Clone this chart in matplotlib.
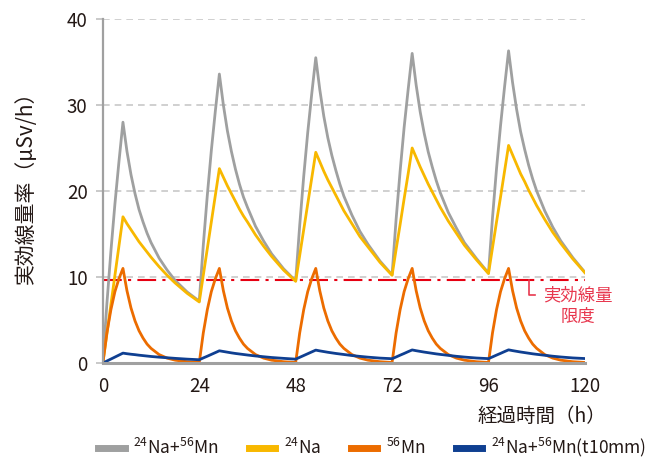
import matplotlib
matplotlib.use('Agg')
import matplotlib.pyplot as plt
from matplotlib.lines import Line2D

plt.rcParams['font.family'] = ['Noto Sans CJK JP', 'DejaVu Sans']
plt.rcParams['mathtext.fontset'] = 'custom'
plt.rcParams['mathtext.rm'] = 'Noto Sans CJK JP'

hours = [0, 1, 2, 3, 4, 5, 6, 7, 8, 9, 10, 11, 12, 14, 16, 18, 21,
         24, 25, 26, 27, 28, 29, 30, 31, 32, 33, 34, 35, 36, 38, 40, 42, 45,
         48, 49, 50, 51, 52, 53, 54, 55, 56, 57, 58, 59, 60, 62, 64, 66, 69,
         72, 73, 74, 75, 76, 77, 78, 79, 80, 81, 82, 83, 84, 86, 88, 90, 93,
         96, 97, 98, 99, 100, 101, 102, 103, 104, 105, 106, 107, 108, 110, 112, 114, 117,
         120]

total = [0, 6.9, 13.0, 18.5, 23.4, 28.0, 24.6, 21.9, 19.7, 17.85, 16.4, 15.1, 14.0, 12.2, 10.8, 9.6, 8.25,
         7.2, 13.7, 19.5, 24.7, 29.3, 33.6, 30.0, 27.0, 24.6, 22.55, 20.8, 19.3, 18.1, 15.9, 14.2, 12.7, 10.95,
         9.55, 16.0, 21.7, 26.8, 31.3, 35.5, 31.8, 28.7, 26.2, 24.15, 22.4, 20.8, 19.4, 17.2, 15.3, 13.8, 11.85,
         10.25, 16.7, 22.3, 27.4, 31.8, 36.0, 32.3, 29.2, 26.7, 24.55, 22.8, 21.2, 19.8, 17.5, 15.7, 14.0, 12.15,
         10.45, 16.9, 22.6, 27.6, 32.1, 36.3, 32.6, 29.5, 26.9, 24.85, 23.0, 21.4, 20.0, 17.7, 15.8, 14.2, 12.25,
         10.55]

na24 = [0, 3.4, 6.8, 10.2, 13.6, 17.0, 16.2, 15.5, 14.8, 14.1, 13.5, 12.9, 12.3, 11.2, 10.2, 9.3, 8.1,
        7.1, 10.2, 13.3, 16.4, 19.5, 22.6, 21.6, 20.6, 19.7, 18.8, 17.9, 17.1, 16.4, 14.9, 13.6, 12.4, 10.8,
        9.5, 12.5, 15.5, 18.5, 21.5, 24.5, 23.4, 22.3, 21.3, 20.4, 19.5, 18.6, 17.7, 16.2, 14.7, 13.5, 11.7,
        10.2, 13.2, 16.1, 19.1, 22.0, 25.0, 23.9, 22.8, 21.8, 20.8, 19.9, 19.0, 18.1, 16.5, 15.1, 13.7, 12.0,
        10.4, 13.4, 16.4, 19.3, 22.3, 25.3, 24.2, 23.1, 22.0, 21.1, 20.1, 19.2, 18.3, 16.7, 15.2, 13.9, 12.1,
        10.5]

mn56 = [0, 3.5, 6.2, 8.3, 9.8, 11.0, 8.4, 6.4, 4.9, 3.75, 2.9, 2.2, 1.7, 0.98, 0.57, 0.33, 0.15,
        0.06, 3.5, 6.2, 8.3, 9.8, 11.0, 8.4, 6.4, 4.9, 3.75, 2.9, 2.2, 1.7, 0.98, 0.57, 0.33, 0.15,
        0.06, 3.5, 6.2, 8.3, 9.8, 11.0, 8.4, 6.4, 4.9, 3.75, 2.9, 2.2, 1.7, 0.98, 0.57, 0.33, 0.15,
        0.06, 3.5, 6.2, 8.3, 9.8, 11.0, 8.4, 6.4, 4.9, 3.75, 2.9, 2.2, 1.7, 0.98, 0.57, 0.33, 0.15,
        0.06, 3.5, 6.2, 8.3, 9.8, 11.0, 8.4, 6.4, 4.9, 3.75, 2.9, 2.2, 1.7, 0.98, 0.57, 0.33, 0.15,
        0.06]

shielded = [0, 0.23, 0.46, 0.69, 0.92, 1.15, 1.08, 1.02, 0.97, 0.91, 0.86, 0.81, 0.76, 0.68, 0.61, 0.54, 0.45,
            0.38, 0.59, 0.79, 1.0, 1.21, 1.42, 1.34, 1.26, 1.18, 1.11, 1.05, 0.99, 0.93, 0.82, 0.73, 0.64, 0.54,
            0.45, 0.66, 0.87, 1.08, 1.29, 1.5, 1.41, 1.33, 1.25, 1.18, 1.11, 1.05, 0.99, 0.87, 0.77, 0.68, 0.57,
            0.50, 0.70, 0.91, 1.11, 1.32, 1.52, 1.43, 1.35, 1.27, 1.20, 1.13, 1.06, 1.0, 0.89, 0.78, 0.69, 0.58,
            0.51, 0.71, 0.92, 1.12, 1.33, 1.53, 1.44, 1.36, 1.28, 1.21, 1.14, 1.07, 1.01, 0.90, 0.79, 0.70, 0.59,
            0.52]

limit = 9.7
xticks = [0, 24, 48, 72, 96, 120]
yticks = [0, 10, 20, 30, 40]

labels = [r'$\mathregular{^{24}}$Na+$\mathregular{^{56}}$Mn',
          r'$\mathregular{^{24}}$Na',
          r'$\mathregular{^{56}}$Mn',
          r'$\mathregular{^{24}}$Na+$\mathregular{^{56}}$Mn(t10mm)']
colors = ['#9fa0a0', '#f8b800', '#ec6c00', '#0f3f91']
series = [total, na24, mn56, shielded]

fig = plt.figure(figsize=(6.47, 4.58), dpi=100)
ax = fig.add_axes([0.159, 0.2074, 0.745, 0.7511])

ax.set_xlim(0, 120)
ax.set_ylim(0, 40)
ax.set_yticks(yticks)
ax.set_xticks(xticks)
ax.grid(axis='y', color='#c8c8c8', linestyle=(0, (4, 3)), linewidth=1.2)
ax.set_axisbelow(True)

for s in ['top', 'right']:
    ax.spines[s].set_visible(False)
ax.spines['left'].set_color('#a0a0a0')
ax.spines['left'].set_linewidth(1.6)
ax.spines['bottom'].set_color('#a0a0a0')
ax.spines['bottom'].set_linewidth(2.2)
ax.tick_params(axis='y', length=5, width=1.2, color='#c0c0c0', labelsize=13.5,
               labelcolor='#231815', pad=6)
ax.tick_params(axis='x', length=0, labelsize=13.5, labelcolor='#231815', pad=9)

ax.axhline(limit, color='#e60012', linestyle=(0, (9, 3, 1.5, 3)), linewidth=1.5)

for vals, c in zip(series, colors):
    ax.plot(hours, vals, color=c, linewidth=2.0, solid_joinstyle='round')

ax.plot([106, 106, 107.6], [limit, 7.9, 7.9], color='#e8384f', linewidth=1.2, clip_on=False)
ax.text(118.3, 6.6, '実効線量\n限度', color='#e8384f', fontsize=12.5, ha='center',
        va='center', linespacing=1.2, clip_on=False)

ax.set_ylabel('実効線量率（μSv/h）', fontsize=15, color='#231815')
ax.yaxis.set_label_coords(-0.137, 0.525)
ax.set_xlabel('経過時間（h）', fontsize=14, color='#231815')
ax.xaxis.set_label_coords(1.045, -0.125)
ax.xaxis.label.set_ha('right')

handles = [Line2D([], [], color=c, linewidth=5) for c in colors]
fig.legend(handles, labels, loc='center', bbox_to_anchor=(0.575, 0.022), ncol=4,
           frameon=False, fontsize=12.5, handlelength=1.5, handletextpad=0.5,
           columnspacing=1.75, labelcolor='#231815', borderpad=0)

fig.savefig('out.png', dpi=100)
